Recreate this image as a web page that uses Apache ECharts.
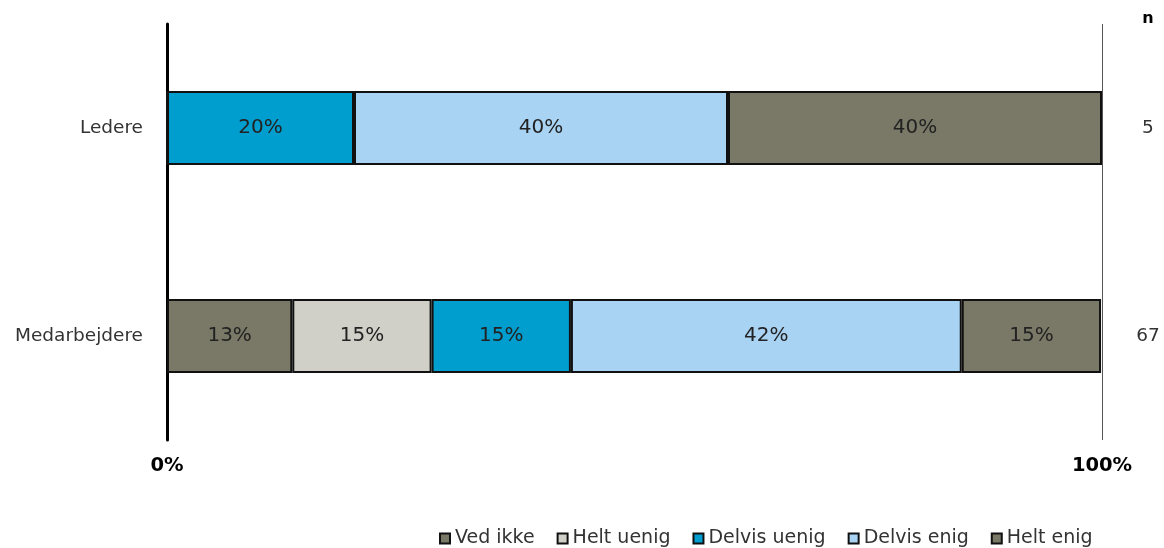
<!DOCTYPE html>
<html>
<head>
<meta charset="utf-8">
<script src="https://cdn.jsdelivr.net/npm/echarts@6/dist/echarts.min.js"></script>
<style>html,body{margin:0;padding:0;background:#fff}#c{width:1164px;height:548px}</style>
</head>
<body>
<div id="c"></div>
<script>
// Categories bottom-to-top
const categories = ['Medarbejdere', 'Ledere'];
const nValues = ['67', '5'];
const seriesNames = ['Ved ikke', 'Helt uenig', 'Delvis uenig', 'Delvis enig', 'Helt enig'];
const vedIkke = [13.4, 0];
const heltUenig = [14.9, 0];
const delvisUenig = [14.9, 20];
const delvisEnig = [41.8, 40];
const heltEnig = [14.9, 40];
const xTicks = [0, 100];
const colors = ['#7a7866', '#d0d0c8', '#009dcf', '#a9d3f3', '#7a7866'];

const seriesData = [vedIkke, heltUenig, delvisUenig, delvisEnig, heltEnig];
const FONT = 'DejaVu Sans';

const chart = echarts.init(document.getElementById('c'), null, {renderer: 'canvas'});
chart.setOption({
  animation: false,
  backgroundColor: '#ffffff',
  textStyle: {fontFamily: FONT},
  grid: {left: 167, right: 62, top: 24, bottom: 108},
  legend: {
    data: seriesNames,
    left: 434, top: 524,
    icon: 'rect', itemWidth: 10, itemHeight: 10, itemGap: 22,
    textStyle: {fontFamily: FONT, fontSize: 19, color: '#333'}
  },
  xAxis: {
    type: 'value', min: 0, max: 100, interval: 100,
    axisLine: {show: false}, axisTick: {show: false},
    splitLine: {show: true, lineStyle: {color: '#555', width: 1}},
    axisLabel: {formatter: v => xTicks.includes(v) ? v + '%' : '', fontFamily: FONT, fontWeight: 'bold', fontSize: 19.5, color: '#000', margin: 16}
  },
  yAxis: [{
    type: 'category', data: categories,
    axisLine: {show: true, lineStyle: {color: '#000', width: 3}},
    axisTick: {show: false},
    axisLabel: {fontFamily: FONT, fontSize: 18.5, color: '#333', margin: 24}
  }, {
    type: 'category', data: nValues, position: 'right', offset: 46,
    axisLine: {show: false}, axisTick: {show: false},
    axisLabel: {fontFamily: FONT, fontSize: 18.5, color: '#333', margin: 0, align: 'center'},
    name: 'n', nameLocation: 'end', nameGap: -3,
    nameTextStyle: {fontFamily: FONT, fontWeight: 'bold', fontSize: 16, color: '#000', align: 'center'}
  }],
  series: seriesNames.map((name, i) => ({
    name, type: 'bar', stack: 'total', barWidth: 74,
    data: seriesData[i],
    itemStyle: {color: colors[i], borderColor: '#111', borderWidth: 2},
    label: {
      show: true, position: 'inside', fontFamily: FONT, fontSize: 20, color: '#222',
      formatter: p => p.value > 0 ? Math.round(p.value) + '%' : ''
    }
  }))
});
</script>
</body>
</html>
